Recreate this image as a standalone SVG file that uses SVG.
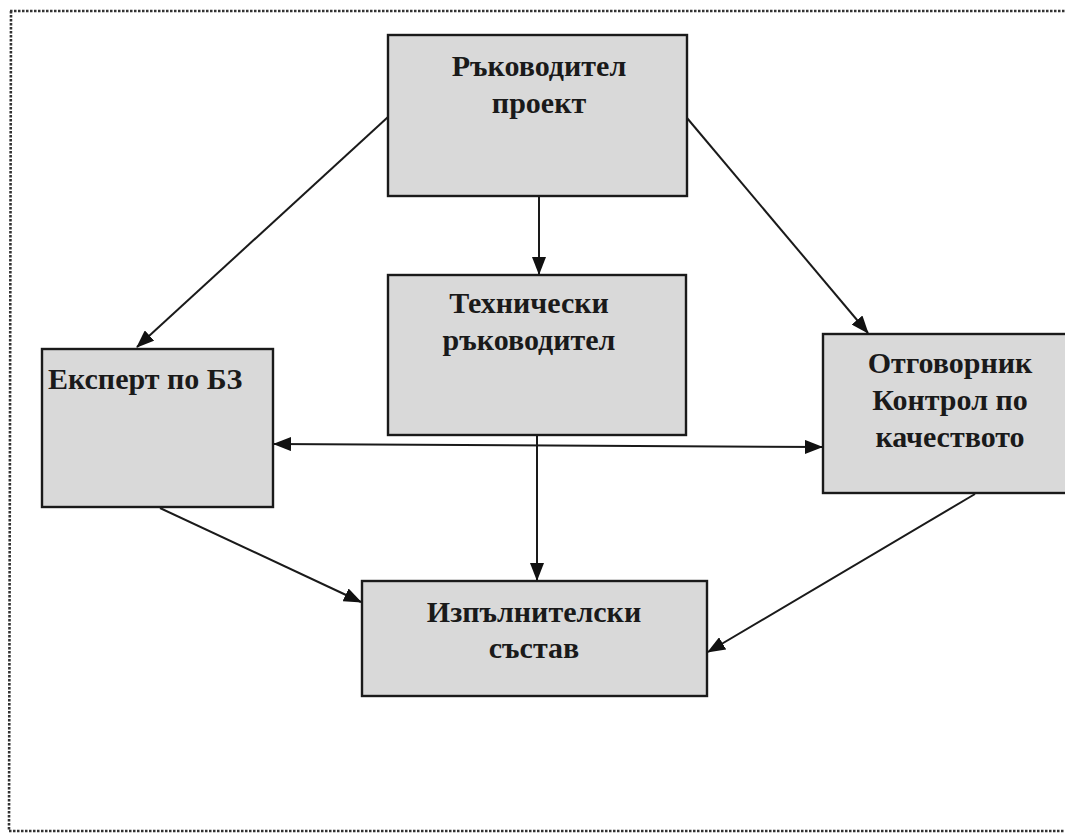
<svg xmlns="http://www.w3.org/2000/svg" width="1065" height="836" viewBox="0 0 1065 836">
<defs>
<marker id="arr" markerWidth="18" markerHeight="14" refX="17" refY="7" orient="auto" markerUnits="userSpaceOnUse">
<path d="M0,0 L18,7 L0,14 z" fill="#111"/>
</marker>
<marker id="arrs" markerWidth="18" markerHeight="14" refX="1" refY="7" orient="auto" markerUnits="userSpaceOnUse">
<path d="M18,0 L0,7 L18,14 z" fill="#111"/>
</marker>
</defs>
<style>
.box{fill:#d9d9d9;stroke:#1a1a1a;stroke-width:2.4}
.t{font-family:"Liberation Serif","Times New Roman",serif;font-weight:bold;font-size:30px;fill:#1a1a1a}
.c{stroke:#1a1a1a;stroke-width:2;fill:none}
</style>
<rect x="0" y="0" width="1065" height="836" fill="#ffffff"/>
<path d="M10,11 L1070,11 M11,11 L9,831 M9,831 L1070,831" fill="none" stroke="#333" stroke-width="2.6" stroke-dasharray="2.5,1.5"/>
<g id="n-rakovoditel">
<rect class="box" x="388" y="35" width="299" height="161"/>
<text class="t" x="539" y="76" text-anchor="middle">Ръководител</text>
<text class="t" x="539" y="113" text-anchor="middle">проект</text>
</g>
<g id="n-tehnicheski">
<rect class="box" x="388" y="275" width="298" height="160"/>
<text class="t" x="529" y="313" text-anchor="middle">Технически</text>
<text class="t" x="529" y="350" text-anchor="middle">ръководител</text>
</g>
<g id="n-ekspert">
<rect class="box" x="42" y="349" width="231" height="158"/>
<text class="t" x="48" y="389">Експерт по БЗ</text>
</g>
<g id="n-otgovornik">
<rect class="box" x="823" y="334" width="250" height="159"/>
<text class="t" x="950" y="373" text-anchor="middle">Отговорник</text>
<text class="t" x="950" y="410" text-anchor="middle">Контрол по</text>
<text class="t" x="950" y="447" text-anchor="middle">качеството</text>
</g>
<g id="n-izpalnitelski">
<rect class="box" x="362" y="581" width="345" height="115"/>
<text class="t" x="534" y="622" text-anchor="middle">Изпълнителски</text>
<text class="t" x="534" y="658" text-anchor="middle">състав</text>
</g>
<g id="connectors">
<line class="c" x1="388" y1="117" x2="137" y2="347" marker-end="url(#arr)"/>
<line class="c" x1="687" y1="118" x2="868" y2="333" marker-end="url(#arr)"/>
<line class="c" x1="539" y1="196" x2="539" y2="274" marker-end="url(#arr)"/>
<line class="c" x1="274" y1="444" x2="822" y2="447" marker-start="url(#arrs)" marker-end="url(#arr)"/>
<line class="c" x1="537" y1="435" x2="537" y2="580" marker-end="url(#arr)"/>
<line class="c" x1="160" y1="508" x2="361" y2="602" marker-end="url(#arr)"/>
<line class="c" x1="975" y1="494" x2="708" y2="652" marker-end="url(#arr)"/>
</g>
</svg>
